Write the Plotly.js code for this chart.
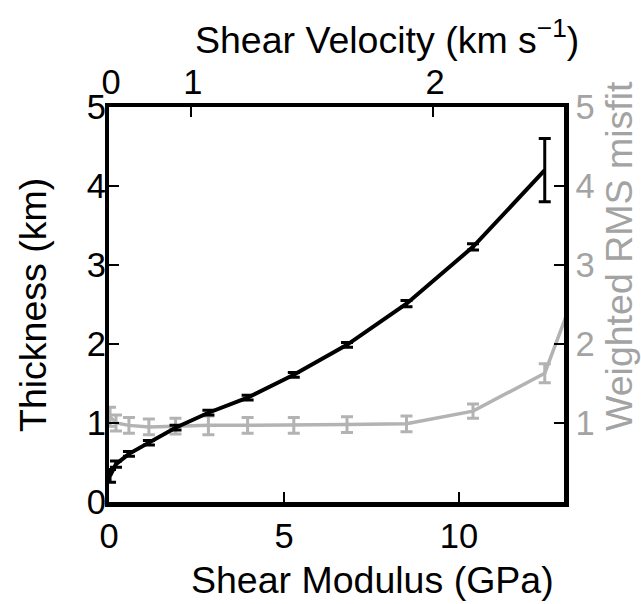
<!DOCTYPE html>
<html>
<head>
<meta charset="utf-8">
<script src="https://cdn.plot.ly/plotly-3.0.1.min.js"></script>
<style>html,body{margin:0;padding:0;background:#fff;}#chart{width:641px;height:604px;}</style>
</head>
<body>
<div id="chart"></div>
<script>
// Shear modulus (GPa) of each model
const modulus = [0.03, 0.2, 0.57, 1.14, 1.9, 2.84, 3.96, 5.28, 6.8, 8.5, 10.4, 12.45];
// Thickness (km) and its error
const thickness = [0.33, 0.48, 0.61, 0.75, 0.94, 1.13, 1.32, 1.61, 1.99, 2.51, 3.23, 4.2];
const thicknessErr = [0.08, 0.04, 0.03, 0.03, 0.03, 0.03, 0.03, 0.03, 0.03, 0.04, 0.04, 0.4];
// Weighted RMS misfit and its error
const misfitModulus = [0.03, 0.2, 0.57, 1.14, 1.9, 2.84, 3.96, 5.28, 6.8, 8.5, 10.4, 12.45, 14.7];
const misfit = [1.08, 1.0, 0.97, 0.95, 0.96, 0.97, 0.97, 0.97, 0.98, 0.99, 1.15, 1.63, 4.3];
const misfitErr = [0.12, 0.1, 0.1, 0.1, 0.1, 0.12, 0.1, 0.1, 0.1, 0.1, 0.09, 0.12, 0];
// Top axis: shear velocity ticks (km/s) and where they sit on the modulus axis (GPa)
const velocityTickText = ['0', '1', '2'];
const velocityTickModulus = [0, 2.34, 9.26];
const modulusTicks = [0, 5, 10];
const thicknessTicks = [0, 1, 2, 3, 4, 5];
const misfitTicks = [1, 2, 3, 4, 5];
// Axis titles
const xTitle = 'Shear Modulus (GPa)';
const x2Title = 'Shear Velocity (km s<sup>−1</sup>)';
const yTitle = 'Thickness (km)';
const y2Title = 'Weighted RMS misfit';

const FONT = 'Liberation Sans, Arial, Helvetica, sans-serif';
const GRAY = '#b3b3b3';
const GRAYTXT = '#a3a3a3';
const TICK = 34.5, TITLE = 37.5;

// plot frame in pixels, used to place title annotations
const L = 109, R = 564, T = 107, B = 502;
const px = v => (v - L) / (R - L);
const py = v => (B - v) / (B - T);

const traces = [
  {
    x: misfitModulus, y: misfit, xaxis: 'x', yaxis: 'y',
    mode: 'lines', type: 'scatter', name: 'Misfit',
    line: {color: GRAY, width: 3.5},
    error_y: {type: 'data', array: misfitErr, visible: true, color: GRAY, thickness: 3, width: 6},
    showlegend: false
  },
  {
    x: modulus, y: thickness, xaxis: 'x', yaxis: 'y2',
    mode: 'lines', type: 'scatter', name: 'Thickness',
    line: {color: '#000', width: 4},
    error_y: {type: 'data', array: thicknessErr, visible: true, color: '#000', thickness: 3, width: 6},
    showlegend: false
  },
  {x: [], y: [], xaxis: 'x2', yaxis: 'y', type: 'scatter', showlegend: false}
];

const axisCommon = {
  ticks: 'inside', ticklen: 10, tickwidth: 1.5, tickcolor: '#000',
  showgrid: false, zeroline: false
};

const layout = {
  width: 641, height: 604,
  margin: {l: L, r: 641 - R, t: T, b: 604 - B, pad: 0},
  paper_bgcolor: '#fff', plot_bgcolor: '#fff',
  font: {family: FONT, size: TICK, color: '#000'},
  showlegend: false,
  xaxis: Object.assign({}, axisCommon, {
    range: [0, 13], tickvals: modulusTicks, ticktext: modulusTicks.map(String),
    showline: true, linewidth: 4.5, linecolor: '#000', mirror: true,
    tickfont: {family: FONT, size: TICK, color: '#000'}
  }),
  xaxis2: Object.assign({}, axisCommon, {
    overlaying: 'x', side: 'top', anchor: 'y',
    range: [0, 13], tickvals: velocityTickModulus, ticktext: velocityTickText,
    showline: false, ticklabelstandoff: 5, ticklabelshift: 2,
    tickfont: {family: FONT, size: TICK, color: '#000'}
  }),
  yaxis: Object.assign({}, axisCommon, {
    side: 'right', range: [0, 5], tickvals: misfitTicks, ticktext: misfitTicks.map(String),
    showline: true, linewidth: 4.5, linecolor: '#000', mirror: true,
    tickfont: {family: FONT, size: TICK, color: GRAYTXT}
  }),
  yaxis2: Object.assign({}, axisCommon, {
    overlaying: 'y', side: 'left', anchor: 'x',
    range: [0, 5], tickvals: thicknessTicks, ticktext: thicknessTicks.map(String),
    showline: false, ticklabelstandoff: 2,
    tickfont: {family: FONT, size: TICK, color: '#000'}
  }),
  annotations: [
    {text: xTitle, xref: 'paper', yref: 'paper', x: px(372), y: py(580),
     xanchor: 'center', yanchor: 'middle', showarrow: false,
     font: {family: FONT, size: TITLE, color: '#000'}},
    {text: x2Title, xref: 'paper', yref: 'paper', x: px(387), y: py(37),
     xanchor: 'center', yanchor: 'middle', showarrow: false,
     font: {family: FONT, size: TITLE, color: '#000'}},
    {text: yTitle, xref: 'paper', yref: 'paper', x: px(33), y: py(305),
     xanchor: 'center', yanchor: 'middle', showarrow: false, textangle: -90,
     font: {family: FONT, size: TITLE, color: '#000'}},
    {text: y2Title, xref: 'paper', yref: 'paper', x: px(619), y: py(256),
     xanchor: 'center', yanchor: 'middle', showarrow: false, textangle: -90,
     font: {family: FONT, size: TITLE, color: GRAYTXT}}
  ]
};

Plotly.newPlot('chart', traces, layout, {staticPlot: true, displayModeBar: false});
</script>
</body>
</html>
